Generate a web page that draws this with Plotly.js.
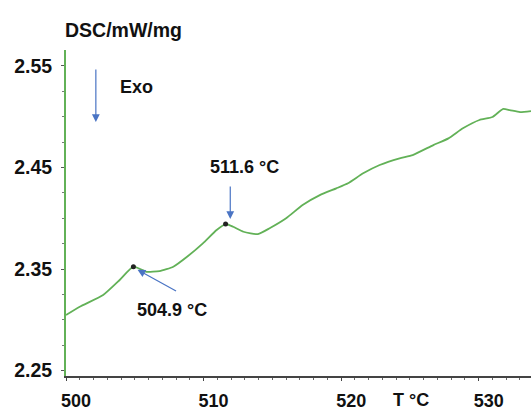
<!DOCTYPE html>
<html>
<head>
<meta charset="utf-8">
<script src="https://cdn.plot.ly/plotly-3.0.1.min.js"></script>
<style>html,body{margin:0;padding:0;background:#fff;}#chart{width:531px;height:412px;}</style>
</head>
<body>
<div id="chart"></div>
<script>
// Temperature (°C)
var temperature = [500.0, 501.0, 502.7, 503.9, 504.9, 505.85, 506.8, 507.8, 508.8, 509.95, 510.95, 511.6,
  512.15, 512.9, 513.95, 514.8, 516.0, 517.2, 518.45, 519.65, 520.5, 521.6, 522.8, 524.25, 525.2,
  526.7, 527.8, 528.85, 530.05, 531.0, 531.75, 532.25, 533.0, 533.8];
// DSC signal (mW/mg)
var dsc = [2.3047, 2.3129, 2.3244, 2.3392, 2.3523, 2.3473, 2.348, 2.3523, 2.3621, 2.3753, 2.3884, 2.3943,
  2.3916, 2.3867, 2.3844, 2.3901, 2.3999, 2.413, 2.4228, 2.4294, 2.4344, 2.4442, 2.4524, 2.459, 2.4622,
  2.472, 2.4786, 2.4885, 2.4967, 2.4996, 2.5075, 2.5065, 2.5045, 2.5055];
// Marked peaks
var peakT = [504.9, 511.6];
var peakDsc = [2.3523, 2.3943];
var peakLabels = ['504.9 °C', '511.6 °C'];
var yTickVals = [2.25, 2.35, 2.45, 2.55];
var xTickVals = [500, 510, 520, 530];

var FONT = 'Liberation Sans, Arial, sans-serif';
var BLUE = '#4a74c4';
var GREEN = '#62b157';
var TXT = {family: FONT, size: 18, weight: 'bold', color: '#111'};

var traces = [
  {x: temperature, y: dsc, type: 'scatter', mode: 'lines', line: {color: GREEN, width: 1.8, shape: 'spline', smoothing: 0.5}, hoverinfo: 'skip'},
  {x: peakT, y: peakDsc, type: 'scatter', mode: 'markers', marker: {color: '#222', size: 5}, hoverinfo: 'skip'}
];

var layout = {
  width: 531, height: 412,
  margin: {l: 66, r: 0, t: 50, b: 36},
  paper_bgcolor: '#fff', plot_bgcolor: '#fff',
  showlegend: false,
  font: {family: FONT, size: 18, color: '#111'},
  xaxis: {
    range: [500, 533.8], showgrid: false, zeroline: false,
    showline: true, linecolor: '#444', linewidth: 2,
    tickvals: xTickVals, ticks: 'outside', ticklen: 3, tickcolor: '#444',
    minor: {dtick: 1, tick0: 500, ticks: 'outside', ticklen: 2, tickcolor: '#666'},
    tickfont: TXT,
    ticklabelshift: 10, ticklabelstandoff: 4
  },
  yaxis: {
    range: [2.2447, 2.5656], showgrid: false, zeroline: false,
    showline: true, linecolor: GREEN, linewidth: 2,
    tickvals: yTickVals, ticktext: yTickVals.map(function(v){return v.toFixed(2);}),
    ticks: 'outside', ticklen: 3, tickcolor: '#555',
    minor: {dtick: 0.025, tick0: 2.25, ticks: 'outside', ticklen: 2, tickcolor: '#777'},
    tickfont: {family: FONT, size: 19.5, weight: 'bold', color: '#111'},
    ticklabelstandoff: 5
  },
  annotations: [
    {text: 'DSC/mW/mg', xref: 'paper', yref: 'paper', x: 0.1247, y: 1.0613, xanchor: 'center', yanchor: 'middle', showarrow: false,
     font: {family: FONT, size: 19.5, weight: 'bold', color: '#111'}},
    {text: 'T °C', xref: 'paper', yref: 'paper', x: 0.742, y: -0.0736, xanchor: 'center', yanchor: 'middle', showarrow: false, font: TXT},
    {text: 'Exo', xref: 'x', yref: 'y', x: 505.11, y: 2.5291, xanchor: 'center', yanchor: 'middle', showarrow: false, font: TXT},
    {text: '', xref: 'x', yref: 'y', x: 502.17, y: 2.4947, ax: 0, ay: -54, showarrow: true,
     arrowhead: 2, arrowsize: 1.3, arrowwidth: 1.2, arrowcolor: BLUE},
    {text: peakLabels[1], xref: 'x', yref: 'y', x: 512.97, y: 2.4504, xanchor: 'center', yanchor: 'middle', showarrow: false, font: TXT},
    {text: '', xref: 'x', yref: 'y', x: 511.94, y: 2.3992, ax: 0, ay: -34, showarrow: true,
     arrowhead: 2, arrowsize: 1.3, arrowwidth: 1.2, arrowcolor: BLUE},
    {text: peakLabels[0], xref: 'x', yref: 'y', x: 507.69, y: 2.3092, xanchor: 'center', yanchor: 'middle', showarrow: false, font: TXT},
    {text: '', xref: 'x', yref: 'y', x: 505.2, y: 2.3493, ax: 40, ay: 22, showarrow: true,
     arrowhead: 2, arrowsize: 1.3, arrowwidth: 1.2, arrowcolor: BLUE}
  ]
};

Plotly.newPlot('chart', traces, layout, {staticPlot: true, displayModeBar: false});
</script>
</body>
</html>
